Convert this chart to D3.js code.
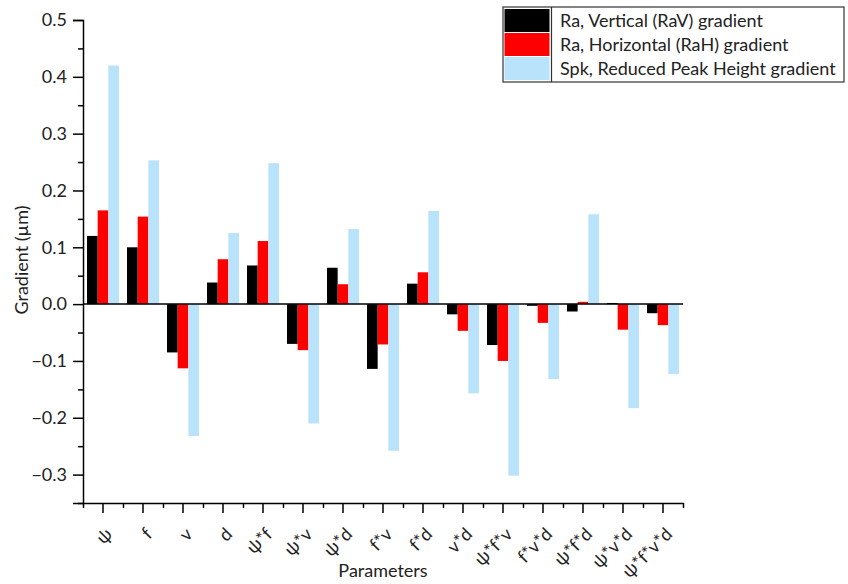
<!DOCTYPE html>
<html>
<head>
<meta charset="utf-8">
<script src="https://cdn.jsdelivr.net/npm/d3@7"></script>
<style>
  body { margin: 0; background: #fff; }
  svg { font-family: Lato, "Noto Sans", sans-serif; }
</style>
</head>
<body>
<svg id="drawing_region"></svg>
<script>
// data
const params = ["ψ", "f", "v", "d", "ψ*f", "ψ*v", "ψ*d", "f*v", "f*d", "v*d", "ψ*f*v", "f*v*d", "ψ*f*d", "ψ*v*d", "ψ*f*v*d"];
const raV = [0.120, 0.100, -0.085, 0.038, 0.068, -0.070, 0.064, -0.114, 0.036, -0.018, -0.072, -0.003, -0.013, 0.002, -0.016];
const raH = [0.165, 0.154, -0.113, 0.079, 0.111, -0.081, 0.035, -0.071, 0.056, -0.047, -0.100, -0.033, 0.004, -0.045, -0.037];
const spk = [0.420, 0.253, -0.232, 0.125, 0.248, -0.210, 0.132, -0.258, 0.164, -0.157, -0.302, -0.132, 0.158, -0.183, -0.123];
const seriesNames = ["Ra, Vertical (RaV) gradient", "Ra, Horizontal (RaH) gradient", "Spk, Reduced Peak Height gradient"];
const seriesColors = ["#000000", "#ff0000", "#b9e3fb"];
const yTicks = [-0.3, -0.2, -0.1, 0.0, 0.1, 0.2, 0.3, 0.4, 0.5];
const yMinorTicks = [-0.35, -0.25, -0.15, -0.05, 0.05, 0.15, 0.25, 0.35, 0.45];

const series = [raV, raH, spk];

const W = 848, H = 584;
const plot = {left: 83, right: 683, top: 20, bottom: 503};

const svg = d3.select('#drawing_region')
    .attr('width', W)
    .attr('height', H);

const xscale = d3.scaleBand()
    .domain(params)
    .range([plot.left, plot.right])
    .paddingInner(0.2)
    .paddingOuter(0.1);

const x1 = d3.scaleBand()
    .domain([0, 1, 2])
    .range([0, xscale.bandwidth()]);

const yscale = d3.scaleLinear()
    .domain([-0.35, 0.5])
    .range([plot.bottom, plot.top]);

// bars
params.forEach((p, i) => {
    series.forEach((s, k) => {
        const v = s[i];
        svg.append('rect')
            .attr('x', xscale(p) + x1(k))
            .attr('y', yscale(Math.max(0, v)))
            .attr('width', x1.bandwidth())
            .attr('height', Math.abs(yscale(v) - yscale(0)))
            .attr('fill', seriesColors[k]);
    });
});

// zero line
svg.append('line')
    .attr('x1', plot.left).attr('x2', plot.right)
    .attr('y1', yscale(0)).attr('y2', yscale(0))
    .attr('stroke', '#000').attr('stroke-width', 1.5);

// y axis
const yaxis = d3.axisLeft(yscale)
    .tickValues(yTicks)
    .tickSize(10)
    .tickPadding(6)
    .tickFormat(d3.format('.1f'));
const yg = svg.append('g')
    .attr('transform', `translate(${plot.left},0)`)
    .call(yaxis);
yg.select('.domain').attr('stroke-width', 1.5);
yg.selectAll('.tick line').attr('stroke-width', 1.5);
yg.selectAll('.tick text').attr('font-size', 18).attr('fill', '#222')
    .style('font-family', 'Lato, sans-serif');

const yminor = d3.axisLeft(yscale).tickValues(yMinorTicks).tickSize(5).tickFormat('');
const ymg = svg.append('g').attr('transform', `translate(${plot.left},0)`).call(yminor);
ymg.select('.domain').remove();
ymg.selectAll('.tick line').attr('stroke-width', 1.5);

// x axis
const xaxis = d3.axisBottom(xscale)
    .tickSize(10)
    .tickSizeOuter(0)
    .tickPadding(6);
const xg = svg.append('g')
    .attr('transform', `translate(0,${plot.bottom})`)
    .call(xaxis);
xg.select('.domain').attr('stroke-width', 1.5);
xg.selectAll('.tick line').attr('stroke-width', 1.5);
xg.selectAll('.tick text')
    .attr('font-size', 18)
    .attr('fill', '#222')
    .style('font-family', 'Lato, sans-serif')
    .attr('text-anchor', 'end')
    .attr('dy', '0.35em')
    .attr('transform', 'translate(6,28) rotate(-45)')
    .attr('x', 0).attr('y', 0);

// minor x ticks at category boundaries
const bounds = d3.range(params.length + 1).map(i => plot.left + i * xscale.step());
const xlin = d3.scaleLinear().domain([plot.left, plot.right]).range([plot.left, plot.right]);
const xminor = d3.axisBottom(xlin).tickValues(bounds).tickSize(5).tickFormat('');
const xmg = svg.append('g').attr('transform', `translate(0,${plot.bottom})`).call(xminor);
xmg.select('.domain').remove();
xmg.selectAll('.tick line').attr('stroke-width', 1.5);

// axis titles
svg.append('text')
    .attr('x', 383)
    .attr('y', 577)
    .attr('text-anchor', 'middle')
    .attr('font-size', 18)
    .attr('fill', '#222')
    .text('Parameters');

svg.append('text')
    .attr('transform', 'translate(28,260) rotate(-90)')
    .attr('text-anchor', 'middle')
    .attr('font-size', 18)
    .attr('fill', '#222')
    .text('Gradient (µm)');

// legend
const legend = svg.append('g');
legend.append('rect')
    .attr('x', 503).attr('y', 7)
    .attr('width', 341).attr('height', 75)
    .attr('fill', '#fff').attr('stroke', '#333').attr('stroke-width', 1.2);
legend.append('line')
    .attr('x1', 551.5).attr('x2', 551.5)
    .attr('y1', 7).attr('y2', 82)
    .attr('stroke', '#333').attr('stroke-width', 1.2);
seriesNames.forEach((name, k) => {
    const yy = 9 + k * 24;
    legend.append('rect')
        .attr('x', 504.5).attr('y', yy)
        .attr('width', 45).attr('height', 23)
        .attr('fill', seriesColors[k]);
    legend.append('text')
        .attr('x', 560).attr('y', yy + 11.5)
        .attr('dy', '0.35em')
        .attr('font-size', 18)
        .attr('fill', '#222')
        .text(name);
});
</script>
</body>
</html>
